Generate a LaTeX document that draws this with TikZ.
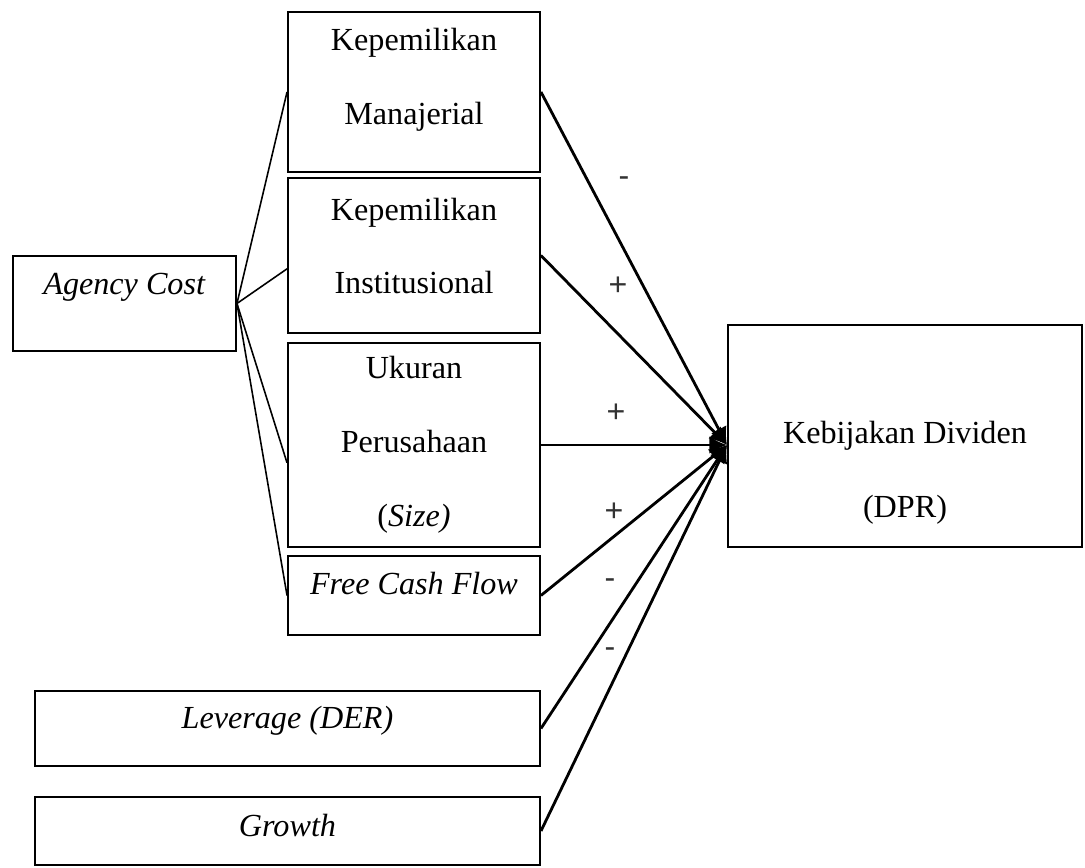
\documentclass[tikz,border=0pt]{standalone}
\usepackage{fontspec}
\setmainfont{Liberation Serif}
\newfontfamily\signfont{Liberation Sans}
\usetikzlibrary{arrows.meta}
\begin{document}
\begin{tikzpicture}[
  box/.style={draw, line width=1.1pt, inner sep=0pt},
  txt/.style={align=center, font=\fontsize{18.3}{42}\selectfont},
  feed/.style={line width=0.9pt},
  effect/.style={-{Latex[length=10pt,width=10pt]}, line width=1.6pt},
  sign/.style={font=\fontsize{18.3}{20}\signfont, text=black!80}]
\useasboundingbox (0,0) rectangle (21.7,17.36);

% kotak variabel
\node[box, minimum width=4.46cm, minimum height=1.9cm] (agency) at (2.49,11.29) {};
\node[box, minimum width=5.04cm, minimum height=3.2cm] (man) at (8.28,15.52) {};
\node[box, minimum width=5.04cm, minimum height=3.1cm] (inst) at (8.28,12.25) {};
\node[box, minimum width=5.04cm, minimum height=4.08cm] (size) at (8.28,8.46) {};
\node[box, minimum width=5.04cm, minimum height=1.58cm] (fcf) at (8.28,5.45) {};
\node[box, minimum width=10.1cm, minimum height=1.5cm] (lev) at (5.75,2.79) {};
\node[box, minimum width=10.1cm, minimum height=1.36cm] (growth) at (5.75,0.74) {};
\node[box, minimum width=7.08cm, minimum height=4.44cm] (kd) at (18.1,8.64) {};

\node[txt] (agencytxt) at (2.49,11.62) {\textit{Agency Cost}};
\node[txt] (mantxt) at (8.28,15.76) {Kepemilikan\\Manajerial};
\node[txt] (insttxt) at (8.28,12.44) {Kepemilikan\\Institusional};
\node[txt] (sizetxt) at (8.28,8.46) {Ukuran\\Perusahaan\\(\textit{Size)}};
\node[txt] (fcftxt) at (8.28,5.68) {\textit{Free Cash Flow}};
\node[txt] (levtxt) at (5.75,2.94) {\textit{Leverage (DER)}};
\node[txt] (growthtxt) at (5.75,0.84) {\textit{Growth}};
\node[txt] (kdtxt) at (18.1,7.91) {Kebijakan Dividen\\(DPR)};

% agency cost ke proksi
\draw[feed] (agency.east) -- (man.west);
\draw[feed] (agency.east) -- (inst.186);
\draw[feed] (agency.east) -- (size.188);
\draw[feed] (agency.east) -- (fcf.west);

% pengaruh ke DPR
\coordinate (hub) at (kd.west |- size.east);
\draw[effect] (man.east) -- (hub);
\draw[effect] (inst.east) -- (hub);
\draw[effect] (size.east) -- (hub);
\draw[effect] (fcf.east) -- (hub);
\draw[effect] (lev.east) -- (hub);
\draw[effect] (growth.east) -- (hub);

\node[sign] (s1) at (12.48,13.72) {-};
\node[sign] (s2) at (12.36,11.64) {+};
\node[sign] (s3) at (12.32,9.10) {+};
\node[sign] (s4) at (12.28,7.12) {+};
\node[sign] (s5) at (12.2,5.68) {-};
\node[sign] (s6) at (12.2,4.30) {-};
\end{tikzpicture}
\end{document}
